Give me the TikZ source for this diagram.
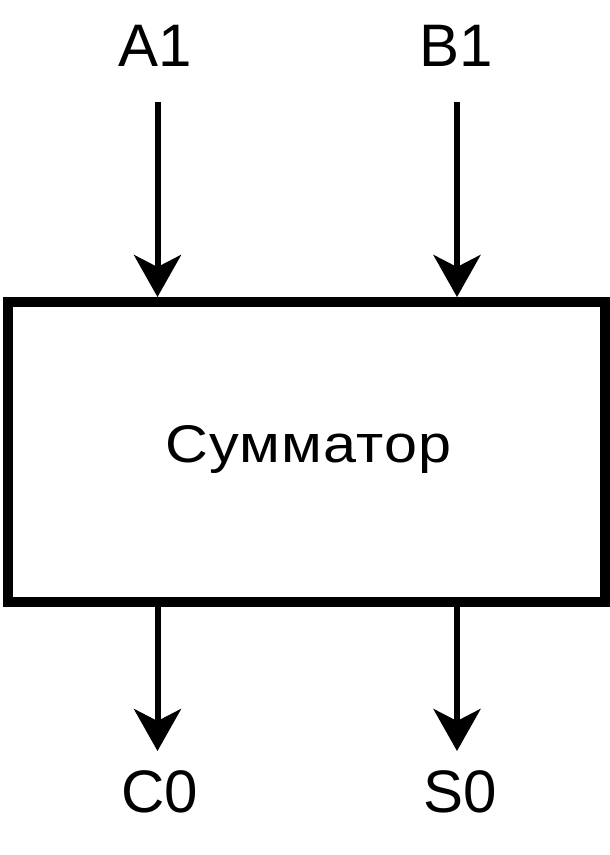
\documentclass[tikz,border=0pt]{standalone}
\usepackage{fontspec}
\setmainfont{Liberation Sans}
\newfontfamily\spacedfont[FakeStretch=1.12,LetterSpace=2]{Liberation Sans}
\usetikzlibrary{arrows.meta}
\begin{document}
\begin{tikzpicture}[x=1pt,y=-1pt,
  lbl/.style={font=\fontsize{60}{72}\selectfont, inner sep=0pt, anchor=base},
  conn/.style={line width=6pt, -{Stealth[length=42pt,width=47pt,inset=12pt]}},
  blk/.style={draw, line width=10pt, minimum width=597pt, minimum height=300pt, inner sep=0pt}]
\useasboundingbox (0,0) rectangle (610,855);
\node[blk] (box) at (306,452) {};
\node[inner sep=0pt, anchor=base, font=\spacedfont\fontsize{53}{63}\selectfont] (sum) at (308.5,462) {Сумматор};
\node[lbl] (a1) at (155,66) {A1};
\node[lbl] (b1) at (456.5,66) {B1};
\node[lbl] (c0) at (160,812) {C0};
\node[lbl] (s0) at (460,812) {S0};
\coordinate (a1in) at (157.5,102);
\coordinate (b1in) at (457,102);
\coordinate (c0out) at (157.5,751);
\coordinate (s0out) at (457,751);
\draw[conn] (a1in) -- (a1in |- box.north);
\draw[conn] (b1in) -- (b1in |- box.north);
\draw[conn] (c0out |- box.south) -- (c0out);
\draw[conn] (s0out |- box.south) -- (s0out);
\end{tikzpicture}
\end{document}
